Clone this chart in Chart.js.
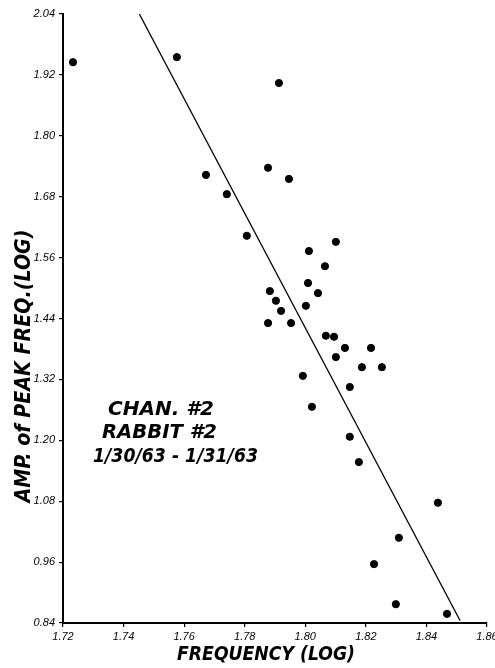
<!DOCTYPE html>
<html>
<head>
<meta charset="utf-8">
<script src="https://cdn.jsdelivr.net/npm/chart.js@4/dist/chart.umd.min.js"></script>
<style>
html,body{margin:0;padding:0;background:#fff;}
#wrap{width:495px;height:668px;}
</style>
</head>
<body>
<div id="wrap"><canvas id="c" width="495" height="668"></canvas></div>
<script>
const xTicks = [1.72, 1.74, 1.76, 1.78, 1.80, 1.82, 1.84, 1.86];
const yTicks = [0.84, 0.96, 1.08, 1.20, 1.32, 1.44, 1.56, 1.68, 1.80, 1.92, 2.04];
const freqLog = [1.7233, 1.7576, 1.7913, 1.7877, 1.7946, 1.7672, 1.7741, 1.7807, 1.8101, 1.8012,
  1.8065, 1.8009, 1.8042, 1.7883, 1.7903, 1.7920, 1.8002, 1.7877, 1.7953, 1.8068,
  1.8095, 1.8131, 1.8217, 1.8101, 1.8187, 1.8253, 1.7992, 1.8147, 1.8022, 1.8147,
  1.8177, 1.8438, 1.8309, 1.8227, 1.8299, 1.8468];
const ampLog = [1.945, 1.955, 1.904, 1.737, 1.715, 1.723, 1.685, 1.603, 1.591, 1.573,
  1.543, 1.510, 1.490, 1.494, 1.475, 1.455, 1.465, 1.431, 1.431, 1.406,
  1.404, 1.382, 1.382, 1.364, 1.344, 1.344, 1.327, 1.305, 1.266, 1.207,
  1.157, 1.077, 1.008, 0.956, 0.877, 0.858];
const fitX = [1.7452, 1.8511];
const fitY = [2.04, 0.845];
const xTitle = 'FREQUENCY (LOG)';
const yTitle = 'AMP. of PEAK FREQ.(LOG)';
const noteLines = ['CHAN. #2', 'RABBIT #2', '1/30/63 - 1/31/63'];

const points = freqLog.map((x, i) => ({x: x, y: ampLog[i]}));
const fitLine = fitX.map((x, i) => ({x: x, y: fitY[i]}));

const titleFont = 'italic bold 22px "DejaVu Sans", "Liberation Sans", sans-serif';
const textPlugin = {
  id: 'texts',
  afterDraw(chart) {
    const ctx = chart.ctx;
    ctx.save();
    ctx.fillStyle = '#000';
    // x title
    ctx.font = 'italic bold 20px "DejaVu Sans", "Liberation Sans", sans-serif';
    ctx.textAlign = 'center';
    ctx.textBaseline = 'middle';
    ctx.fillText(xTitle, 266, 655, 178);
    // y title
    ctx.save();
    ctx.translate(24, 366);
    ctx.rotate(-Math.PI / 2);
    ctx.font = titleFont;
    ctx.fillText(yTitle, 0, 0, 273);
    ctx.restore();
    // note
    ctx.font = 'italic bold 20px "DejaVu Sans", "Liberation Sans", sans-serif';
    ctx.textAlign = 'left';
    ctx.textBaseline = 'alphabetic';
    const pos = [[108, 415, 108], [102, 438, 115], [93, 462, 165]];
    noteLines.forEach((t, i) => ctx.fillText(t, pos[i][0], pos[i][1], pos[i][2]));
    ctx.restore();
  }
};

const tickFont = {family: '"Liberation Sans", "DejaVu Sans", sans-serif', size: 11, style: 'italic'};

new Chart(document.getElementById('c'), {
  type: 'scatter',
  data: {
    datasets: [
      {
        type: 'scatter',
        data: points,
        backgroundColor: '#000',
        borderColor: '#000',
        pointRadius: 3.6,
        pointHoverRadius: 3.6
      },
      {
        type: 'line',
        data: fitLine,
        borderColor: '#000',
        borderWidth: 1.3,
        pointRadius: 0,
        fill: false,
        tension: 0
      }
    ]
  },
  options: {
    responsive: false,
    animation: false,
    events: [],
    layout: {padding: {left: 0, right: 8, top: 14, bottom: 0}},
    plugins: {legend: {display: false}, tooltip: {enabled: false}},
    scales: {
      x: {
        type: 'linear',
        min: 1.72,
        max: 1.86,
        afterBuildTicks: s => { s.ticks = xTicks.map(v => ({value: v})); },
        afterFit: s => { s.height = 45; s.paddingRight = 0; s.paddingLeft = 0; },
        ticks: {
          font: tickFont,
          color: '#000',
          padding: 3,
          maxRotation: 0,
          autoSkip: false,
          callback: v => Number(v).toFixed(2)
        },
        grid: {display: true, drawOnChartArea: false, drawTicks: true, tickLength: 4, color: '#000', lineWidth: 1.2},
        border: {display: true, color: '#000', width: 2}
      },
      y: {
        type: 'linear',
        min: 0.84,
        max: 2.04,
        afterBuildTicks: s => { s.ticks = yTicks.map(v => ({value: v})); },
        afterFit: s => { s.width = 63; s.paddingTop = 0; s.paddingBottom = 0; },
        ticks: {
          font: tickFont,
          color: '#000',
          padding: 4,
          autoSkip: false,
          callback: v => Number(v).toFixed(2)
        },
        grid: {display: true, drawOnChartArea: false, drawTicks: true, tickLength: 4, color: '#000', lineWidth: 1.2},
        border: {display: true, color: '#000', width: 2}
      }
    }
  },
  plugins: [textPlugin]
});
</script>
</body>
</html>
